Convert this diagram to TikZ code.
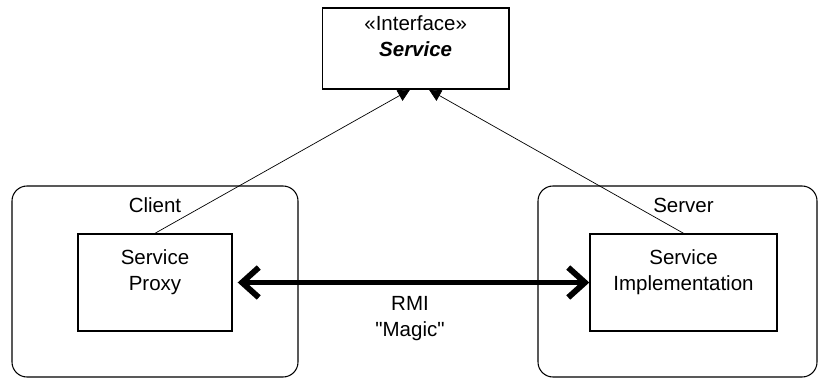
\documentclass[tikz,border=0pt]{standalone}
\usepackage{fontspec}
\setmainfont{Liberation Sans}
\usepackage{tikz}
\usetikzlibrary{arrows.meta,positioning,calc}
\newcommand{\umlfont}{\fontsize{17.5}{22}\selectfont}
\tikzset{
  hostbox/.style={
    draw=black,
    rounded corners=0.45cm,
    line width=0.9pt
  },
  classbox/.style={
    draw=black,
    line width=1.2pt
  },
  boxtext/.style={
    inner sep=0pt,
    align=center,
    font=\umlfont
  },
  realizearrow/.style={
    -{Triangle[length=3.6mm,width=3.6mm]},
    line width=0.6pt
  },
  rmiarrow/.style={
    {Straight Barb[length=5mm,width=9mm]}-{Straight Barb[length=5mm,width=9mm]},
    line width=5pt
  }
}

\begin{document}
\begin{tikzpicture}
  \useasboundingbox (0,0) rectangle (24.57,11.34);
  % interface
  \node[classbox, minimum width=5.6cm, minimum height=2.43cm] (iface) at (12.47,9.885) {};
  \node[boxtext, anchor=north] (ifacetext) at ($(iface.north)+(0,-0.24)$) {«Interface»\\ \textbf{\textit{Service}}};
  % client side
  \node[hostbox, minimum width=8.58cm, minimum height=5.73cm] (client) at (4.65,2.895) {};
  \node[classbox, minimum width=4.62cm, minimum height=2.91cm] (proxy) at (4.65,2.865) {};
  \node[boxtext, anchor=north] (proxytext) at ($(proxy.north)+(0,-0.48)$) {Service\\Proxy};
  \node[boxtext, above=0.6cm of proxy] (clientlabel) {Client};
  % server side
  \node[hostbox, minimum width=8.37cm, minimum height=5.73cm] (server) at (20.325,2.895) {};
  \node[classbox, minimum width=5.61cm, minimum height=2.91cm] (impl) at (20.505,2.865) {};
  \node[boxtext, anchor=north] (impltext) at ($(impl.north)+(0,-0.48)$) {Service\\Implementation};
  \node[boxtext, above=0.6cm of impl] (serverlabel) {Server};
  % realizations
  \coordinate (ifaceL) at ($(iface.south)+(-0.17,0)$);
  \coordinate (ifaceR) at ($(iface.south)+(0.4,0)$);
  \draw[realizearrow] (proxy.north) -- (ifaceL);
  \draw[realizearrow] (impl.north) -- (ifaceR);
  % rmi link
  \draw[rmiarrow, shorten <=0.15cm] (proxy.east) -- (impl.west);
  \node[boxtext, anchor=north] (rmi) at (12.3,2.46) {RMI\\\textquotedbl Magic\textquotedbl};
\end{tikzpicture}
\end{document}
